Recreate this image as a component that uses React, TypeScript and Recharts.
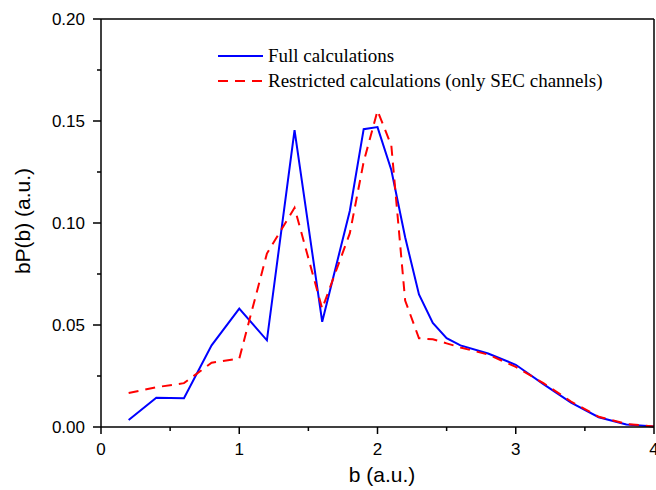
import React from "react";
import { LineChart, Line, XAxis, YAxis } from "recharts";

// b values and bP(b)
const bValues = [0.2, 0.4, 0.6, 0.8, 1.0, 1.2, 1.4, 1.6, 1.8, 1.9, 2.0, 2.1, 2.2, 2.3, 2.4, 2.5, 2.6, 2.8, 3.0, 3.2, 3.4, 3.6, 3.8, 4.0];
const fullP = [0.0034, 0.0143, 0.0141, 0.04, 0.058, 0.0425, 0.1455, 0.0516, 0.106, 0.146, 0.147, 0.126, 0.093, 0.065, 0.051, 0.0435, 0.04, 0.036, 0.0305, 0.021, 0.012, 0.0048, 0.0012, 0.0003];
const restrictedP = [0.0167, 0.0195, 0.0215, 0.0315, 0.0335, 0.085, 0.1075, 0.058, 0.095, 0.13, 0.155, 0.138, 0.062, 0.0435, 0.043, 0.041, 0.039, 0.0355, 0.0295, 0.0215, 0.0125, 0.005, 0.0015, 0.0003];

const xTicks = [0, 0.5, 1, 1.5, 2, 2.5, 3, 3.5, 4];
const yTicks = [0, 0.025, 0.05, 0.075, 0.1, 0.125, 0.15, 0.175, 0.2];

const fullData = bValues.map((b, i) => ({ b, p: fullP[i] }));
const restrictedData = bValues.map((b, i) => ({ b, p: restrictedP[i] }));

const SANS = "Arial, 'Liberation Sans', sans-serif";
const SERIF = "'Times New Roman', 'Liberation Serif', serif";

const isMajor = (v: number, step: number) => Math.abs(v / step - Math.round(v / step)) < 1e-6;

const XTick = (props: any) => {
	const { x, y, payload } = props;
	const major = isMajor(payload.value, 1);
	return (
		<g>
			<rect x={x - 0.75} y={y} width={1.5} height={major ? 7 : 4} fill="#000" />
			{major && (
				<text x={x} y={y + 28} textAnchor="middle" fontSize={17} fontFamily={SANS} fill="#000">
					{payload.value}
				</text>
			)}
		</g>
	);
};

const YTick = (props: any) => {
	const { x, y, payload } = props;
	const major = isMajor(payload.value, 0.05);
	const len = major ? 8 : 4;
	return (
		<g>
			<rect x={x - len} y={y - 0.75} width={len} height={1.5} fill="#000" />
			{major && (
				<text x={x - 16} y={y} dy="0.35em" textAnchor="end" fontSize={17} fontFamily={SANS} fill="#000">
					{payload.value.toFixed(2)}
				</text>
			)}
		</g>
	);
};

const FrameTick = (props: any) => {
	const { x, y, payload } = props;
	return <rect x={x - 0.75} y={y} width={1.5} height={isMajor(payload.value, 1) ? 8 : 4} fill="#000" />;
};

const RightTick = (props: any) => {
	const { x, y, payload } = props;
	const len = isMajor(payload.value, 0.05) ? 8 : 4;
	return <rect x={x - len} y={y - 0.75} width={len} height={1.5} fill="#000" />;
};

const axisLine = { stroke: "#000", strokeWidth: 1.5 };

const abs = (left: number, top: number): React.CSSProperties => ({ position: "absolute", left, top, whiteSpace: "nowrap" });

export default function App() {
	return (
		<div style={{ position: "fixed", left: 0, top: 0, width: 656, height: 490, background: "#fff" }}>
			<LineChart width={656} height={490} margin={{ top: 0, right: 0, bottom: 0, left: 0 }}>
				<XAxis dataKey="b" type="number" domain={[0, 4]} ticks={xTicks} interval={0} tickSize={0} tickMargin={0} tickLine={false} tick={<XTick />} height={63} axisLine={axisLine} allowDataOverflow />
				<XAxis xAxisId="top" orientation="top" type="number" domain={[0, 4]} ticks={xTicks} interval={0} tickSize={0} tickMargin={0} tickLine={false} tick={<FrameTick />} height={19} axisLine={axisLine} />
				<YAxis type="number" domain={[0, 0.2]} ticks={yTicks} interval={0} tickSize={0} tickMargin={0} tickLine={false} tick={<YTick />} width={101} axisLine={axisLine} />
				<YAxis yAxisId="right" orientation="right" type="number" domain={[0, 0.2]} ticks={yTicks} interval={0} tickSize={0} tickMargin={0} tickLine={false} tick={<RightTick />} width={2} axisLine={axisLine} />
				<Line data={fullData} dataKey="p" stroke="#0000ff" strokeWidth={2} dot={false} isAnimationActive={false} />
				<Line data={restrictedData} dataKey="p" stroke="#ff0000" strokeWidth={2} strokeDasharray="10 7" dot={false} isAnimationActive={false} />
			</LineChart>

			{/* legend */}
			<div style={{ ...abs(218, 55), width: 45, height: 2, background: "#0000ff" }} />
			<div style={{ ...abs(268, 46), fontFamily: SERIF, fontSize: 19, lineHeight: "19px", color: "#000" }}>
				Full calculations
			</div>
			<div
				style={{
					...abs(218, 80),
					width: 45,
					height: 2,
					background: "repeating-linear-gradient(to right, #ff0000 0 10px, transparent 10px 17px)",
				}}
			/>
			<div style={{ ...abs(268, 71), fontFamily: SERIF, fontSize: 19, lineHeight: "19px", color: "#000" }}>
				Restricted calculations (only SEC channels)
			</div>

			{/* axis titles */}
			<div style={{ ...abs(382, 464), transform: "translateX(-50%)", fontFamily: SANS, fontSize: 21, lineHeight: "21px", color: "#000" }}>
				b (a.u.)
			</div>
			<div
				style={{
					...abs(22, 221),
					transform: "translate(-50%, -50%) rotate(-90deg)",
					fontFamily: SANS,
					fontSize: 21,
					lineHeight: "21px",
					color: "#000",
				}}
			>
				bP(b) (a.u.)
			</div>
		</div>
	);
}
